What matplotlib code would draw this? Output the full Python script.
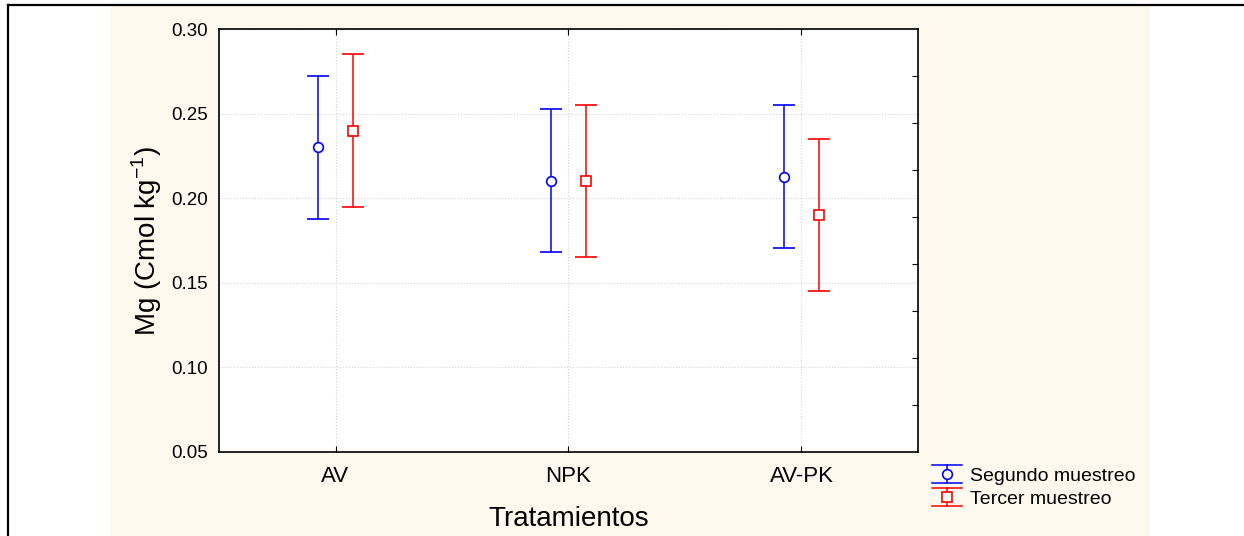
import numpy as np
import matplotlib
matplotlib.use("Agg")
import matplotlib.pyplot as plt
from matplotlib.legend_handler import HandlerBase
from matplotlib.lines import Line2D
from matplotlib.patches import Rectangle

plt.rcParams['font.family'] = ['Liberation Sans', 'DejaVu Sans']

# ---- data ----
categories = ["AV", "NPK", "AV-PK"]
series_names = ["Segundo muestreo", "Tercer muestreo"]
seg_mean = [0.230, 0.210, 0.2125]
seg_low = [0.188, 0.168, 0.1705]
seg_high = [0.272, 0.2525, 0.255]
ter_mean = [0.240, 0.210, 0.190]
ter_low = [0.195, 0.165, 0.145]
ter_high = [0.285, 0.255, 0.235]
y_ticks = [0.05, 0.10, 0.15, 0.20, 0.25, 0.30]

W, H = 1244, 536
fig = plt.figure(figsize=(W / 100, H / 100), dpi=100)
fig.patch.set_facecolor('white')

# cream panel
fig.add_artist(Rectangle((110 / W, 0), (1150 - 110) / W, 1 - 6 / H,
                         transform=fig.transFigure, facecolor='#fdf9ee',
                         edgecolor='none', zorder=0))
# outer border (top + left)
fig.add_artist(Line2D([8 / W, 1.0], [1 - 5 / H, 1 - 5 / H], transform=fig.transFigure,
                      color='black', lw=1.6, zorder=1))
fig.add_artist(Line2D([8 / W, 8 / W], [0, 1 - 5 / H], transform=fig.transFigure,
                      color='black', lw=1.6, zorder=1))

ax = fig.add_axes([219 / W, 1 - 452 / H, (918 - 219) / W, (452 - 29) / H])
ax.set_facecolor('white')

x = np.arange(len(categories)) + 0.5
off = 0.075

def draw(xpos, mean, low, high, color, marker, label):
    mean = np.array(mean)
    yerr = np.vstack([mean - np.array(low), np.array(high) - mean])
    return ax.errorbar(xpos, mean, yerr=yerr, fmt=marker, color=color, ecolor=color,
                       mfc='white', mec=color, ms=7, mew=1.2, elinewidth=1.1,
                       capsize=8, capthick=1.1, label=label, zorder=3)

e1 = draw(x - off, seg_mean, seg_low, seg_high, '#0000ff', 'o', series_names[0])
e2 = draw(x + off, ter_mean, ter_low, ter_high, '#ff0000', 's', series_names[1])

ax.set_xlim(0, len(categories))
ax.set_ylim(0.05, 0.30)
ax.set_xticks(x)
ax.set_xticklabels(categories, fontsize=16)
ax.set_yticks(y_ticks)
ax.set_yticklabels([f"{v:.2f}" for v in y_ticks], fontsize=13.5)
ax.tick_params(axis='y', left=False, length=0, pad=8)
ax.tick_params(axis='x', direction='in', length=4, width=0.8, top=True, pad=10)
ax.grid(True, linestyle=':', color='#d4d4d4', linewidth=0.8)
ax.set_axisbelow(True)
for s in ax.spines.values():
    s.set_linewidth(1.2)

ax.set_xlabel("Tratamientos", fontsize=20, labelpad=14)
ax.set_ylabel("Mg (Cmol kg$^{\\mathregular{-1}}$)", fontsize=20, labelpad=5)

# right spine minor ticks
ax2 = ax.twinx()
ax2.set_ylim(0.05, 0.30)
ax2.set_yticks(np.linspace(0.05, 0.30, 10)[1:-1])
ax2.set_yticklabels([])
ax2.tick_params(axis='y', direction='in', length=4, width=0.8)
for s in ax2.spines.values():
    s.set_visible(False)


class HandlerEB(HandlerBase):
    def create_artists(self, legend, orig_handle, xdescent, ydescent, width, height,
                       fontsize, trans):
        line = orig_handle[0]
        c = line.get_color()
        m = line.get_marker()
        cy = height / 2 - ydescent
        half = 6.5
        xs = -xdescent
        xc = xs + width / 2
        arts = [
            Line2D([xs, xs + width], [cy + half, cy + half], color=c, lw=1.1),
            Line2D([xs, xs + width], [cy - half, cy - half], color=c, lw=1.1),
            Line2D([xc, xc], [cy - half, cy + half], color=c, lw=1.1),
            Line2D([xc], [cy], marker=m, ms=7, mfc='white', mec=c, mew=1.2, color=c),
        ]
        for a in arts:
            a.set_transform(trans)
        return arts


leg = fig.legend(handles=[e1, e2], labels=series_names,
                 handler_map={type(e1): HandlerEB()},
                 loc='upper left', bbox_to_anchor=(932 / W, 1 - 467 / H),
                 frameon=False, fontsize=14, handlelength=1.55, handletextpad=0.4,
                 labelspacing=0.3, borderpad=0, borderaxespad=0)

fig.savefig("out.png", dpi=100)
